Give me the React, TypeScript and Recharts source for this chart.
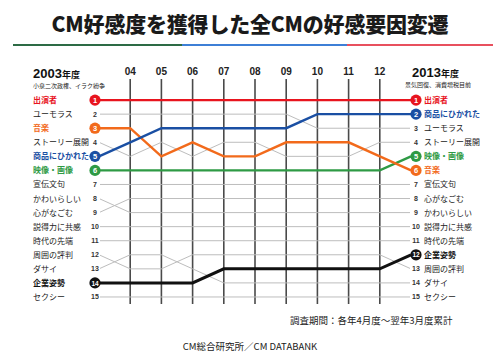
import { LineChart, Line, XAxis, YAxis, ReferenceLine } from 'recharts';

const YEARS = ['2003', '04', '05', '06', '07', '08', '09', '10', '11', '12', '2013'];

// rank of each appeal factor per year (2003 .. 2013)
const SHUTSUENSHA = [1, 1, 1, 1, 1, 1, 1, 1, 1, 1, 1];
const HUMOROUS = [2, 2, 2, 2, 2, 2, 2, 3, 3, 3, 3];
const ONGAKU = [3, 3, 5, 4, 5, 5, 4, 4, 4, 5, 6];
const STORY = [4, 5, 4, 5, 4, 4, 5, 5, 5, 4, 4];
const SHOHIN = [5, 4, 3, 3, 3, 3, 3, 2, 2, 2, 2];
const EIZO = [6, 6, 6, 6, 6, 6, 6, 6, 6, 6, 5];
const SENDEN = [7, 7, 7, 7, 7, 7, 7, 7, 7, 7, 7];
const KAWAII = [8, 9, 9, 9, 9, 9, 9, 9, 9, 9, 9];
const NAGOMU = [9, 8, 8, 8, 8, 8, 8, 8, 8, 8, 8];
const SETTOKU = [10, 10, 10, 10, 10, 10, 10, 10, 10, 10, 10];
const JIDAI = [11, 11, 11, 11, 11, 11, 11, 11, 11, 11, 11];
const HYOBAN = [12, 13, 13, 12, 12, 12, 12, 12, 12, 12, 13];
const DASAI = [13, 12, 12, 13, 14, 14, 14, 14, 14, 14, 14];
const KIGYO = [14, 14, 14, 14, 13, 13, 13, 13, 13, 13, 12];
const SEXY = [15, 15, 15, 15, 15, 15, 15, 15, 15, 15, 15];

const GRAY = '#bdbdbd';

// gray ones first so highlighted lines sit on top
const SERIES = [
  { name: 'ユーモラス', ranks: HUMOROUS, color: '' },
  { name: 'ストーリー展開', ranks: STORY, color: '' },
  { name: '宣伝文句', ranks: SENDEN, color: '' },
  { name: 'かわいらしい', ranks: KAWAII, color: '' },
  { name: '心がなごむ', ranks: NAGOMU, color: '' },
  { name: '説得力に共感', ranks: SETTOKU, color: '' },
  { name: '時代の先端', ranks: JIDAI, color: '' },
  { name: '周囲の評判', ranks: HYOBAN, color: '' },
  { name: 'ダサイ', ranks: DASAI, color: '' },
  { name: 'セクシー', ranks: SEXY, color: '' },
  { name: '映像・画像', ranks: EIZO, color: '#2e9a44' },
  { name: '音楽', ranks: ONGAKU, color: '#f26a1b' },
  { name: '商品にひかれた', ranks: SHOHIN, color: '#1a4fa3' },
  { name: '企業姿勢', ranks: KIGYO, color: '#111111' },
  { name: '出演者', ranks: SHUTSUENSHA, color: '#e8141e' },
];

const data = YEARS.map((year, i) => {
  const row: Record<string, number | string> = { i, year };
  SERIES.forEach((s) => { row[s.name] = s.ranks[i]; });
  return row;
});

const FONT = '"Noto Sans CJK JP", "Noto Sans", sans-serif';

function endDot(props: any, s: typeof SERIES[number]) {
  const { cx, cy, index, value } = props;
  const last = YEARS.length - 1;
  if (index !== 0 && index !== last) return <g key={`${s.name}-${index}`} />;
  const left = index === 0;
  const hl = !!s.color;
  const mx = left ? cx - 4 : cx + 5;
  const nameX = left ? cx - 66 : cx + 13;
  const label = String(value);
  return (
    <g key={`${s.name}-${index}`}>
      {hl ? (
        <>
          <circle cx={mx} cy={cy} r={5.6} fill={s.color} />
          <text x={mx} y={cy + 2.6} fill="#fff" fontSize={label.length > 1 ? 6.5 : 7.5}
            fontWeight="bold" textAnchor="middle" fontFamily="Arial, sans-serif">{label}</text>
        </>
      ) : (
        <>
          <rect x={left ? cx - 10 : cx - 1} y={cy - 4} width={11} height={8} fill="#fff" />
          <text x={mx} y={cy + 2.5} fill="#333" fontSize={7} fontWeight="bold"
            textAnchor="middle" fontFamily="Arial, sans-serif">{label}</text>
        </>
      )}
      <text x={nameX} y={cy + 3} fill={hl ? s.color : '#222'} fontSize={8}
        fontWeight={hl ? 'bold' : 'normal'} fontFamily={FONT}>{s.name}</text>
    </g>
  );
}

const YearTick = ({ x, y, payload }: any) => (
  <text x={x} y={y + 4} textAnchor="middle" fontSize={10} fontWeight="bold"
    fill="#222" fontFamily="Arial, sans-serif">{YEARS[payload.value]}</text>
);

export default function App() {
  return (
    <div style={{ position: 'absolute', left: 0, top: 0, width: 500, height: 356, background: '#fff', fontFamily: FONT }}>
      <div style={{ position: 'absolute', left: 0, width: 500, top: 8, textAlign: 'center', fontSize: 21, fontWeight: 900, color: '#1a1a1a', letterSpacing: -0.2 }}>
        CM好感度を獲得した全CMの好感要因変遷
      </div>
      <div style={{ position: 'absolute', top: 44, left: 13, width: 169, height: 2, background: '#2d6b45' }} />
      <div style={{ position: 'absolute', top: 44, left: 182, width: 165, height: 2, background: '#3d7fd6' }} />
      <div style={{ position: 'absolute', top: 44, left: 347, width: 146, height: 2, background: '#e8505e' }} />

      <div style={{ position: 'absolute', left: 33, top: 63, fontSize: 13, fontWeight: 'bold', color: '#111', whiteSpace: 'nowrap' }}>
        <span style={{ fontFamily: 'Arial, sans-serif' }}>2003</span><span style={{ fontSize: 9 }}>年度</span>
      </div>
      <div style={{ position: 'absolute', left: 33, top: 81, fontSize: 6, color: '#222', whiteSpace: 'nowrap' }}>小泉二次政権、イラク紛争</div>
      <div style={{ position: 'absolute', left: 412, top: 62, fontSize: 13, fontWeight: 'bold', color: '#111', whiteSpace: 'nowrap' }}>
        <span style={{ fontFamily: 'Arial, sans-serif' }}>2013</span><span style={{ fontSize: 9 }}>年度</span>
      </div>
      <div style={{ position: 'absolute', left: 405, top: 80, fontSize: 6, color: '#222', whiteSpace: 'nowrap' }}>景気回復、消費増税目前</div>

      <div style={{ position: 'absolute', left: 0, top: 0 }}>
        <LineChart width={500} height={356} data={data} margin={{ top: 59, right: 89, bottom: 52, left: 99 }}>
          <XAxis dataKey="i" type="number" domain={[0, 10]} orientation="top" ticks={[1, 2, 3, 4, 5, 6, 7, 8, 9]}
            axisLine={false} tickLine={false} height={20} tick={<YearTick />} />
          <YAxis type="number" domain={[-0.5, 15.5]} reversed hide />
          {[1, 2, 3, 4, 5, 6, 7, 8, 9].map((v) => (
            <ReferenceLine key={v} x={v} stroke="#4a4a4a" strokeWidth={1.6} />
          ))}
          {SERIES.map((s) => (
            <Line key={s.name} dataKey={s.name} type="linear" isAnimationActive={false}
              stroke={s.color || GRAY} strokeWidth={s.color ? (s.color === '#111111' ? 3 : 2.4) : 1}
              dot={(p: any) => endDot(p, s)} activeDot={false} />
          ))}
        </LineChart>
      </div>

      <div style={{ position: 'absolute', left: 290, top: 313, fontSize: 9.5, color: '#222', whiteSpace: 'nowrap' }}>調査期間：各年4月度～翌年3月度累計</div>
      <div style={{ position: 'absolute', left: 0, width: 500, top: 339, textAlign: 'center', fontSize: 9.5, color: '#222' }}>CM総合研究所／CM DATABANK</div>
    </div>
  );
}
